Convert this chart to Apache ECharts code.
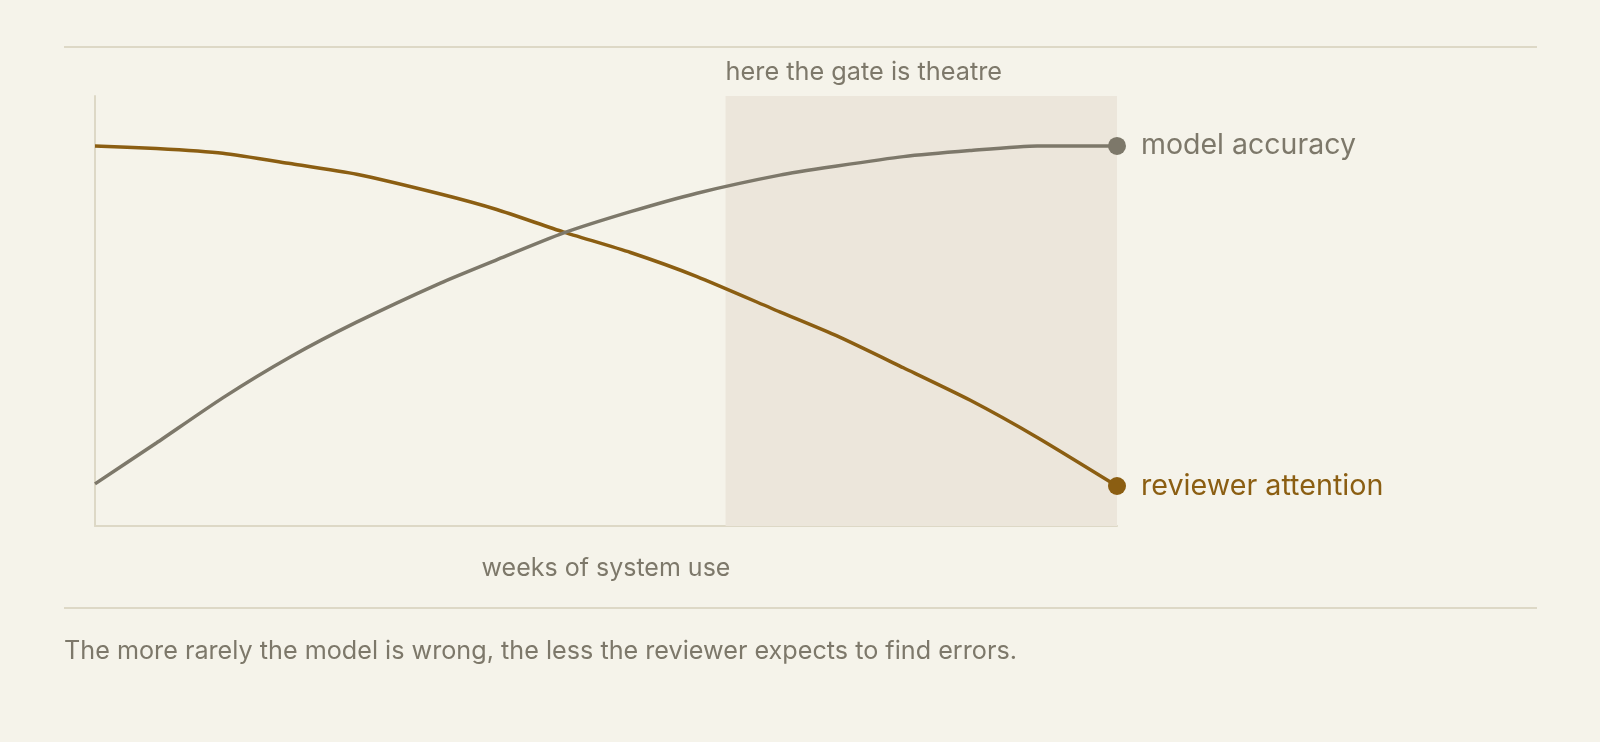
<!DOCTYPE html>
<html>
<head>
<meta charset="utf-8">
<script src="https://cdn.jsdelivr.net/npm/echarts@6/dist/echarts.min.js"></script>
<style>
html,body{margin:0;padding:0;background:#f5f3ea;}
#chart{width:1600px;height:742px;}
</style>
</head>
<body>
<div id="chart"></div>
<script>
// x positions (share of observed period, 0..100)
const weeks = [0, 6.0, 12.5, 19.1, 25.6, 33.8, 39.3, 45.8, 52.4, 58.9, 67.0, 72.6, 79.1, 85.6, 92.2, 100];
const modelAccuracy = [9.8, 19.3, 29.8, 39.3, 47.4, 56.5, 61.9, 68.1, 73.1, 77.4, 81.6, 83.7, 85.9, 87.3, 88.4, 88.4];
const reviewerAttention = [88.4, 87.8, 86.7, 84.3, 81.8, 77.2, 73.6, 68.4, 63.6, 58.0, 49.8, 44.2, 36.8, 29.3, 20.6, 9.3];
const theatreStart = 61.7;
const theatreEnd = 100;
const seriesNames = ['model accuracy', 'reviewer attention'];
const xAxisName = 'weeks of system use';
const shadeLabel = 'here the gate is theatre';
const caption = 'The more rarely the model is wrong, the less the reviewer expects to find errors.';

const FONT = 'Inter, "Noto Sans", sans-serif';
const GREY = '#7d786a';
const GOLD = '#8b5e12';
const RULE = '#ddd8c6';

function build(vals, color) {
  return weeks.map((w, i) => {
    if (i === weeks.length - 1) {
      return {
        value: [w, vals[i]],
        symbol: 'circle',
        symbolSize: 18,
        itemStyle: { color: color },
        label: { show: true }
      };
    }
    return { value: [w, vals[i]] };
  });
}

const chart = echarts.init(document.getElementById('chart'), null, { renderer: 'canvas' });
chart.setOption({
  backgroundColor: '#f5f3ea',
  animation: false,
  textStyle: { fontFamily: FONT },
  grid: { left: 95, right: 483, top: 96, bottom: 216, containLabel: false },
  xAxis: {
    type: 'value', min: 0, max: 100,
    name: xAxisName, nameLocation: 'middle', nameGap: 30,
    nameTextStyle: { color: GREY, fontSize: 25, fontFamily: FONT },
    axisLine: { show: true, lineStyle: { color: RULE, width: 2 } },
    axisTick: { show: false }, axisLabel: { show: false }, splitLine: { show: false }
  },
  yAxis: {
    type: 'value', min: 0, max: 100,
    axisLine: { show: true, lineStyle: { color: RULE, width: 2 } },
    axisTick: { show: false }, axisLabel: { show: false }, splitLine: { show: false }
  },
  series: [
    {
      name: seriesNames[1], type: 'line', z: 3,
      data: build(reviewerAttention, GOLD),
      symbol: 'none', smooth: 0.2,
      lineStyle: { color: GOLD, width: 3.5 },
      itemStyle: { color: GOLD },
      label: { show: false, position: 'right', distance: 15, formatter: seriesNames[1], color: GOLD, fontSize: 28.7, fontFamily: FONT },
      markArea: {
        silent: true,
        itemStyle: { color: '#ece6db' },
        label: { show: true, position: [0, -11], align: 'left', verticalAlign: 'bottom', color: GREY, fontSize: 25.3, fontFamily: FONT },
        data: [[{ xAxis: theatreStart, name: shadeLabel }, { xAxis: theatreEnd }]]
      }
    },
    {
      name: seriesNames[0], type: 'line', z: 4,
      data: build(modelAccuracy, GREY),
      symbol: 'none', smooth: 0.2,
      lineStyle: { color: GREY, width: 3.5 },
      itemStyle: { color: GREY },
      label: { show: false, position: 'right', distance: 15, formatter: seriesNames[0], color: GREY, fontSize: 28.5, fontFamily: FONT }
    }
  ],
  graphic: [
    { type: 'line', shape: { x1: 64, y1: 47, x2: 1537, y2: 47 }, style: { stroke: RULE, lineWidth: 2 } },
    { type: 'line', shape: { x1: 64, y1: 608, x2: 1537, y2: 608 }, style: { stroke: RULE, lineWidth: 2 } },
    { type: 'text', x: 64, y: 651, style: { text: caption, fill: GREY, font: '25.2px ' + FONT, verticalAlign: 'middle', align: 'left' } }
  ]
});
</script>
</body>
</html>
